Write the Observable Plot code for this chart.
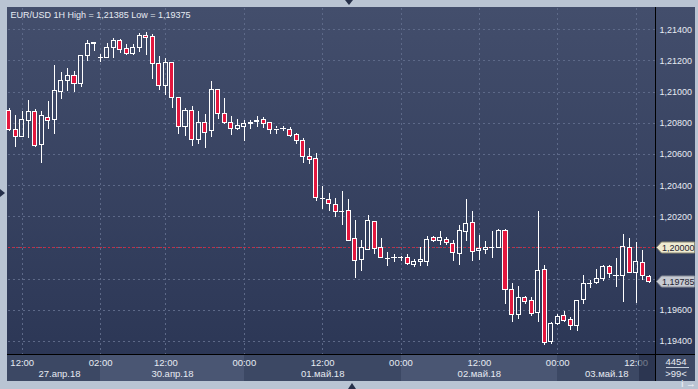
<!DOCTYPE html>
<html><head><meta charset="utf-8">
<script src="https://cdn.jsdelivr.net/npm/d3@7"></script>
<script src="https://cdn.jsdelivr.net/npm/@observablehq/plot@0.6"></script>
<style>
html,body{margin:0;padding:0;background:#b9c4d3;}
#wrap{position:relative;width:698px;height:389px;overflow:hidden;background:#b9c4d3;font-family:"Liberation Sans",Arial,sans-serif;}
.abs{position:absolute;}
#wrap svg{position:absolute;left:0;top:0;}
#wrap svg line,#wrap svg rect{shape-rendering:crispEdges;}
</style></head><body><div id="wrap">
<div class="abs" style="left:7px;top:7px;width:688px;height:347px;background:linear-gradient(to bottom,#434e6c,#2c3756);"></div>
<div class="abs" id="bottomPanel" style="left:7px;top:355px;width:648px;height:26px;background:#3c4864;"></div>
<div class="abs" style="left:656px;top:355px;width:39px;height:26px;background:#3c4864;"></div>
<div class="abs" style="left:655px;top:7px;width:1px;height:374px;background:#000;"></div>
<div class="abs" style="left:7px;top:354px;width:688px;height:1px;background:#000;"></div>
<div class="abs" style="left:345px;top:0px;width:0;height:0;border-left:4px solid transparent;border-right:4px solid transparent;border-top:5px solid #26304a;"></div>
<div class="abs" style="left:348px;top:383px;width:0;height:0;border-left:4px solid transparent;border-right:4px solid transparent;border-bottom:6px solid #26304a;"></div>
<div class="abs" style="left:0px;top:189px;width:0;height:0;border-top:4px solid transparent;border-bottom:4px solid transparent;border-left:5px solid #26304a;"></div>
</div>
<script>
const symbol = "EUR/USD";
const timeframe = "1H";
const open  = [1.20882,1.20758,1.20713,1.20816,1.20874,1.20662,1.20835,1.20823,1.21000,1.21073,1.21102,1.21051,1.21229,1.21310,1.21222,1.21218,1.21285,1.21331,1.21278,1.21243,1.21282,1.21359,1.21355,1.21182,1.21038,1.21188,1.20964,1.20775,1.20876,1.20694,1.20805,1.20749,1.21011,1.20861,1.20803,1.20765,1.20778,1.20797,1.20810,1.20823,1.20801,1.20764,1.20762,1.20758,1.20726,1.20688,1.20585,1.20572,1.20317,1.20311,1.20277,1.20236,1.20239,1.20059,1.19924,1.19990,1.20168,1.19999,1.19935,1.19937,1.19937,1.19933,1.19892,1.19911,1.19911,1.20061,1.20044,1.20054,1.20027,1.19960,1.20104,1.20162,1.19979,1.19988,1.20003,1.20001,1.20106,1.19732,1.19567,1.19676,1.19663,1.19584,1.19860,1.19396,1.19514,1.19562,1.19539,1.19501,1.19668,1.19774,1.19774,1.19798,1.19875,1.19822,1.19822,1.20001,1.19841,1.19905,1.19817];
const high  = [1.20895,1.20850,1.20876,1.20944,1.20889,1.20876,1.20940,1.21169,1.21126,1.21152,1.21132,1.21235,1.21333,1.21317,1.21240,1.21314,1.21342,1.21338,1.21304,1.21304,1.21376,1.21385,1.21372,1.21227,1.21216,1.21192,1.20966,1.20897,1.20908,1.20876,1.20857,1.21068,1.21017,1.20961,1.20844,1.20823,1.20818,1.20818,1.20844,1.20835,1.20805,1.20781,1.20780,1.20771,1.20733,1.20701,1.20638,1.20604,1.20395,1.20348,1.20316,1.20362,1.20309,1.20176,1.20048,1.20207,1.20170,1.20061,1.19969,1.19956,1.19947,1.19956,1.19928,1.20001,1.20074,1.20074,1.20108,1.20065,1.20048,1.20142,1.20311,1.20234,1.20082,1.20042,1.20108,1.20119,1.20119,1.19770,1.19753,1.19689,1.19680,1.20234,1.19888,1.19524,1.19573,1.19593,1.19556,1.19663,1.19823,1.19791,1.19864,1.19890,1.19886,1.19935,1.20087,1.20063,1.20035,1.19986,1.19823];
const low   = [1.20747,1.20645,1.20709,1.20704,1.20647,1.20544,1.20760,1.20726,1.20955,1.21006,1.21000,1.21030,1.21199,1.21263,1.21188,1.21214,1.21214,1.21246,1.21237,1.21237,1.21256,1.21237,1.21079,1.21012,1.20978,1.20893,1.20730,1.20715,1.20653,1.20666,1.20640,1.20711,1.20824,1.20792,1.20722,1.20754,1.20683,1.20758,1.20775,1.20769,1.20726,1.20728,1.20746,1.20711,1.20666,1.20544,1.20536,1.20300,1.20249,1.20236,1.20198,1.20146,1.20044,1.19806,1.19851,1.19984,1.19958,1.19937,1.19883,1.19909,1.19913,1.19888,1.19877,1.19879,1.19883,1.20037,1.20016,1.20018,1.19913,1.19890,1.20042,1.19911,1.19918,1.19958,1.19931,1.20001,1.19635,1.19524,1.19539,1.19639,1.19562,1.19520,1.19375,1.19378,1.19501,1.19522,1.19471,1.19466,1.19635,1.19738,1.19766,1.19785,1.19804,1.19747,1.19650,1.19834,1.19646,1.19791,1.19770];
const close = [1.20758,1.20713,1.20823,1.20874,1.20653,1.20844,1.20816,1.21009,1.21073,1.21102,1.21054,1.21233,1.21310,1.21317,1.21222,1.21285,1.21331,1.21272,1.21246,1.21285,1.21362,1.21349,1.21182,1.21038,1.21188,1.20961,1.20775,1.20876,1.20694,1.20805,1.20739,1.21011,1.20858,1.20803,1.20763,1.20781,1.20794,1.20805,1.20816,1.20797,1.20754,1.20761,1.20764,1.20720,1.20688,1.20585,1.20566,1.20320,1.20318,1.20281,1.20230,1.20234,1.20048,1.19915,1.20001,1.20170,1.19995,1.19937,1.19935,1.19937,1.19937,1.19899,1.19913,1.19920,1.20053,1.20044,1.20063,1.20033,1.19967,1.20110,1.20157,1.19976,1.19995,1.20003,1.20003,1.20106,1.19732,1.19567,1.19676,1.19655,1.19575,1.19854,1.19389,1.19511,1.19560,1.19533,1.19501,1.19661,1.19770,1.19774,1.19798,1.19875,1.19830,1.19822,1.20008,1.19838,1.19911,1.19819,1.19785];

const timeTicks  = [2, 14, 24, 36, 48, 60, 72, 84, 96];
const timeLabels = ["12:00","02:00","12:00","00:00","12:00","00:00","12:00","00:00","12:00"];
const dayStarts  = [0, 14, 36, 60, 84];
const dateTicks  = [7.7, 25, 48, 72, 91.5];
const dateLabels = ["27.апр.18","30.апр.18","01.май.18","02.май.18","03.май.18"];
const priceTicks = [1.194,1.196,1.198,1.200,1.202,1.204,1.206,1.208,1.210,1.212,1.214];
const levelLine  = 1.20000;
const totalBars  = 4454;

const RED = "#e3173e", TXT = "#e6eaf2", FONT = "'Liberation Sans', Arial, sans-serif";
const fmt = v => v.toFixed(5).replace(".", ",");
const bars = open.map((o, i) => ({
  i, o, h: high[i], l: low[i], c: close[i],
  top: Math.max(o, close[i]), bot: Math.min(o, close[i]),
  doji: Math.abs(o - close[i]) < 0.00003
}));
const lastPrice = close[close.length - 1];
const title = `${symbol} ${timeframe} High = ${fmt(d3.max(high))} Low = ${fmt(d3.min(low))}`;
const timeMap = new Map(timeTicks.map((t, k) => [t, timeLabels[k]]));
const dateMap = new Map(dateTicks.map((t, k) => [t, dateLabels[k]]));
// the price tags hide the axis labels they sit on
const tagValues = [levelLine, lastPrice];
const axisTicks = priceTicks.filter(t => tagValues.every(v => Math.abs(t - v) > 0.0007));
const hw = 0.31;

const plot = Plot.plot({
  width: 698, height: 389,
  marginLeft: 8, marginRight: 43, marginTop: 8, marginBottom: 35,
  style: {background: "transparent", fontFamily: FONT, fontSize: "9px", color: TXT, overflow: "visible"},
  x: {domain: [-0.107, 98.97]},
  y: {domain: [1.193166, 1.215367]},
  marks: [
    Plot.gridY(priceTicks, {stroke: "#5d6988", strokeOpacity: 1, strokeDasharray: "2,3"}),
    Plot.gridX(timeTicks, {stroke: "#5d6988", strokeOpacity: 1, strokeDasharray: "2,3"}),
    Plot.ruleY([levelLine], {stroke: "#c42a42", strokeDasharray: "2,2"}),
    Plot.ruleX(bars, {x: "i", y1: "top", y2: "h", stroke: "#ffffff"}),
    Plot.ruleX(bars, {x: "i", y1: "l", y2: "bot", stroke: "#ffffff"}),
    Plot.rect(bars.filter(d => !d.doji), {x1: d => d.i - hw, x2: d => d.i + hw, y1: "o", y2: "c", fill: d => d.c < d.o ? RED : "none", stroke: "#ffffff"}),
    Plot.ruleY(bars.filter(d => d.doji), {y: "c", x1: d => d.i - hw - 0.08, x2: d => d.i + hw + 0.08, stroke: "#ffffff"}),
    Plot.axisY({ticks: axisTicks, anchor: "right", tickFormat: fmt, tickSize: 0, tickPadding: 4, fill: TXT, fontSize: 9}),
    Plot.axisX({ticks: timeTicks, anchor: "bottom", tickFormat: d => timeMap.get(d), tickSize: 0, tickPadding: 5, fill: TXT, fontSize: 9.5}),
    Plot.axisX({ticks: dateTicks, anchor: "bottom", tickFormat: d => dateMap.get(d), tickSize: 0, tickPadding: 16, fill: TXT, fontSize: 9.5}),
    Plot.text([title], {frameAnchor: "top-left", lineAnchor: "top", textAnchor: "start", dx: 2, dy: 3, fill: TXT, fontSize: 9})
  ]
});

const wrap = document.getElementById("wrap");
const xs = plot.scale("x"), ys = plot.scale("y");
// day bands in the time panel
dayStarts.forEach((s, k) => {
  if (k % 2 === 0) return;
  const x1 = xs.apply(s);
  const x2 = k + 1 < dayStarts.length ? xs.apply(dayStarts[k + 1]) : 655;
  const d = document.createElement("div");
  d.className = "abs";
  d.style.cssText = `left:${x1}px;top:355px;width:${x2 - x1}px;height:26px;background:#4a5673;`;
  wrap.appendChild(d);
});
wrap.appendChild(plot);

const svg = d3.select(plot);
// chart shift marker over right end of time panel
svg.append("rect").attr("x", 639).attr("y", 355).attr("width", 16).attr("height", 26)
  .attr("fill", "#222c44").attr("fill-opacity", 0.6);
// price tags on the right axis
function tag(v, fill, stroke) {
  const y = Math.round(ys.apply(v)) + 0.5;
  const g = svg.append("g");
  g.append("path")
    .attr("d", `M656.5,${y} L661.5,${y - 5.5} L694.5,${y - 5.5} L694.5,${y + 5.5} L661.5,${y + 5.5} Z`)
    .attr("fill", fill).attr("stroke", stroke);
  g.append("text").attr("x", 662).attr("y", y + 3.3).attr("fill", "#1e2230")
    .attr("text-anchor", "start").attr("font-size", 9).attr("font-family", FONT).text(fmt(v));
}
tag(levelLine, "#efebd2", "#8f8c76");
tag(lastPrice, "#c6cad2", "#8a8f9a");
// bars counter box
svg.append("text").attr("x", 676).attr("y", 365).attr("text-anchor", "middle").attr("fill", TXT)
  .attr("font-size", 9.5).attr("font-family", FONT).text(String(totalBars));
svg.append("line").attr("x1", 666).attr("x2", 689).attr("y1", 367.5).attr("y2", 367.5).attr("stroke", "#c8d0dc");
svg.append("text").attr("x", 676).attr("y", 377).attr("text-anchor", "middle").attr("fill", TXT)
  .attr("font-size", 9.5).attr("font-family", FONT).text(`>${bars.length}<`);
</script>
</body></html>
